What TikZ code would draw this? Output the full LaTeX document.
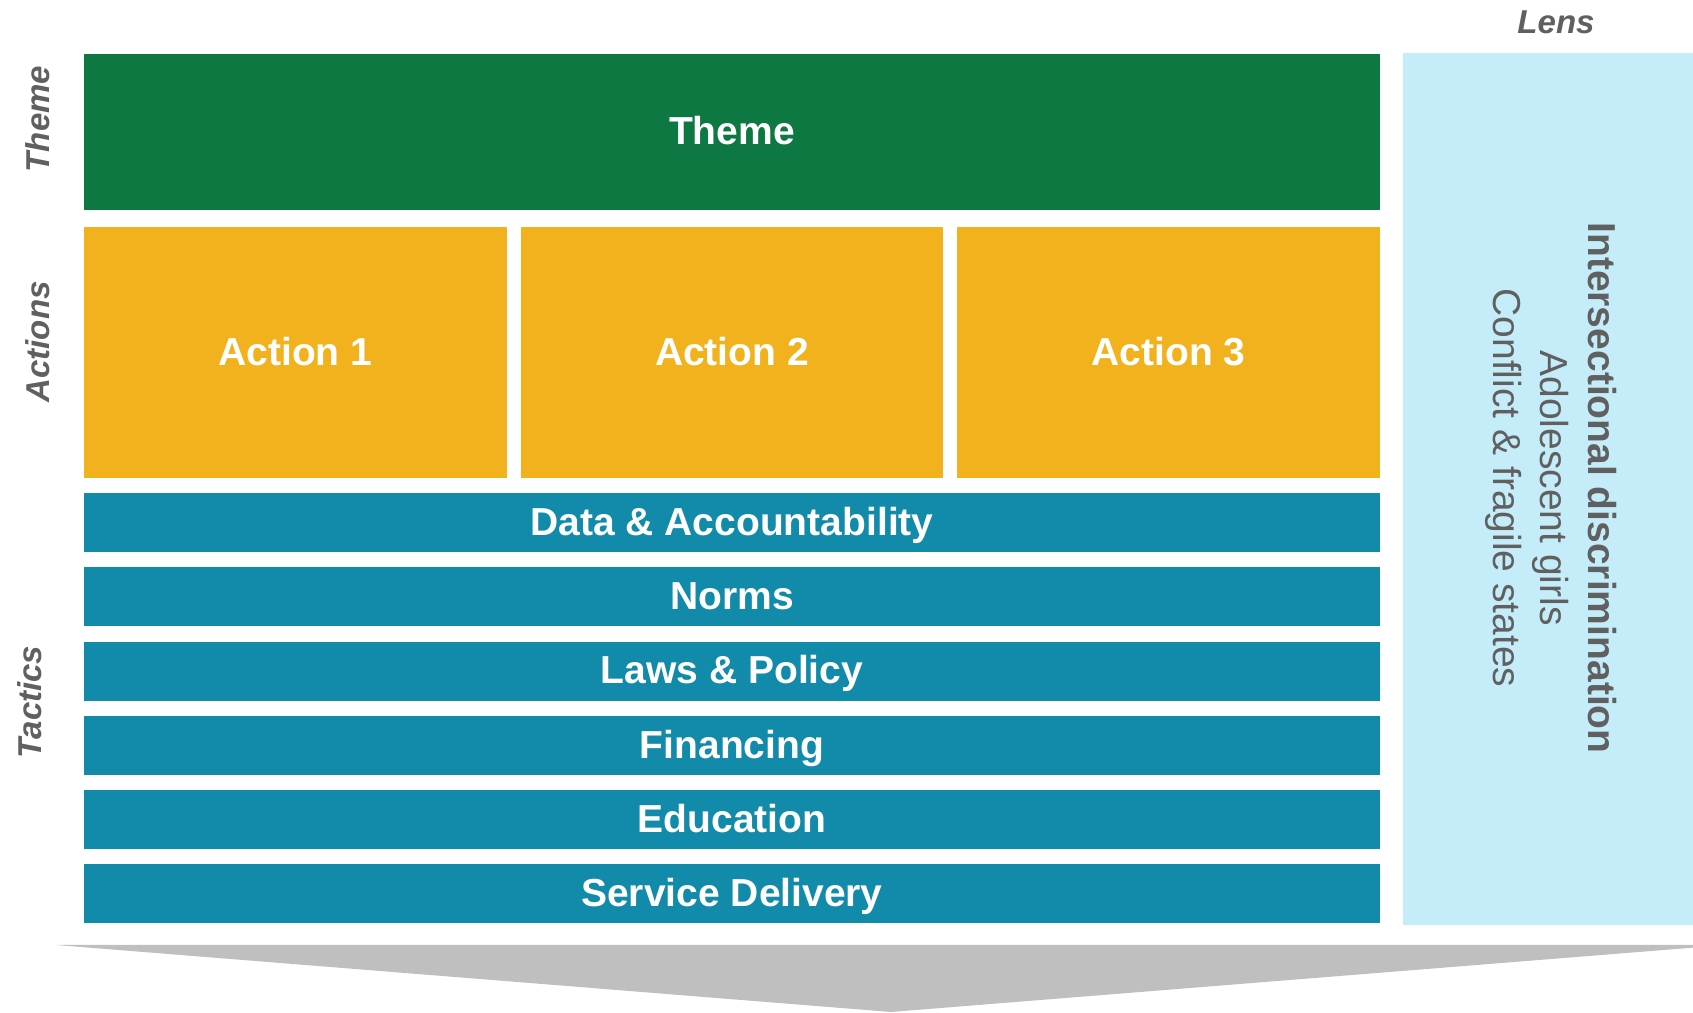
\documentclass[tikz,border=0pt]{standalone}
\usepackage{fontspec}
\setmainfont{Liberation Sans}
\usepackage{tikz}
\usetikzlibrary{positioning,calc}
\usepackage{xcolor}
\definecolor{themegreen}{RGB}{14,120,66}
\definecolor{actionorange}{RGB}{242,178,30}
\definecolor{tacticteal}{RGB}{18,139,170}
\definecolor{lensblue}{RGB}{197,237,249}
\definecolor{labelgray}{RGB}{96,96,96}
\definecolor{arrowgray}{RGB}{191,191,191}

\begin{document}
\begin{tikzpicture}[
  block/.style={minimum width=12.96cm, inner sep=0pt, anchor=center, text=white,
    font=\fontsize{11.1}{13}\selectfont\bfseries, text height=0.72em, text depth=0pt},
  theme/.style={block, fill=themegreen, minimum height=1.56cm},
  action/.style={block, fill=actionorange, minimum width=4.227cm, minimum height=2.51cm},
  tactic/.style={block, fill=tacticteal, minimum height=0.59cm},
  sidelabel/.style={font=\fontsize{9.4}{11}\selectfont\bfseries\itshape, text=labelgray,
    text height=0.72em, text depth=0pt, inner sep=0pt},
]
\useasboundingbox (0,0) rectangle (16.93,10.13);
\clip (0,0) rectangle (16.93,10.13);

% Row labels (left)
\node[sidelabel, rotate=90] (lblTheme) at (0.37, 8.94) {Theme};
\node[sidelabel, rotate=90] (lblActions) at (0.37, 6.71) {Actions};
\node[sidelabel, rotate=90] (lblTactics) at (0.29, 3.11) {Tactics};

% Theme
\node[theme] (theme) at (7.32, 8.81) {Theme};

% Actions
\node[action] (act1) at (2.953, 6.605) {Action 1};
\node[action] (act2) at (7.32, 6.605) {Action 2};
\node[action] (act3) at (11.687, 6.605) {Action 3};

% Tactics (top to bottom)
\node[tactic] (tData) at (7.32, 4.905) {Data \& Accountability};
\node[tactic] (tNorms) at (7.32, 4.162) {Norms};
\node[tactic] (tLaws) at (7.32, 3.419) {Laws \& Policy};
\node[tactic] (tFin) at (7.32, 2.676) {Financing};
\node[tactic] (tEdu) at (7.32, 1.933) {Education};
\node[tactic] (tServ) at (7.32, 1.19) {Service Delivery};

% Lens column
\node[sidelabel] (lblLens) at (15.56, 9.925) {Lens};
\node[fill=lensblue, minimum width=2.90cm, minimum height=8.72cm, inner sep=0pt] (lens) at (15.48, 5.24) {};
\node[rotate=-90, text=labelgray, align=center, inner sep=0pt,
  font=\fontsize{11.1}{13.5}\selectfont] (lensText) at (15.51, 5.25)
  {\textbf{Intersectional discrimination}\\Adolescent girls\\Conflict \& fragile states};

% Arrow (bottom)
\fill[arrowgray] (0.56, 0.68) -- (17.26, 0.68) -- (8.91, 0.01) -- cycle;

\end{tikzpicture}
\end{document}
